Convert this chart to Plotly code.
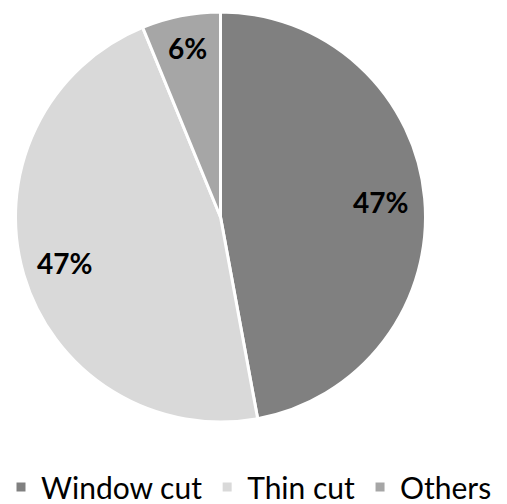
import math
import plotly.graph_objects as go

# ---- data ----
categories = ["Window cut", "Thin cut", "Others"]
values = [47.1, 46.7, 6.2]

# ---- style ----
colors = ["#808080", "#d9d9d9", "#a6a6a6"]
label_radius = [0.785, 0.794, 0.84]   # radial position of the % labels (fraction of radius)

W, H = 507, 504
BOTTOM = 60                           # bottom margin reserved for the legend
PH = H - BOTTOM                       # plot-area height (px)
PAGE_OFFSET = 8                       # default page margin around the figure
CX, CY, R = 220.5 - PAGE_OFFSET, 217.0 - PAGE_OFFSET, 205.0   # pie centre / radius (px)

dom_x = [(CX - R) / W, (CX + R) / W]
dom_y = [1 - (CY + R) / PH, 1 - (CY - R) / PH]

fig = go.Figure(
    go.Pie(
        labels=categories,
        values=values,
        sort=False,
        direction="clockwise",
        rotation=0,
        marker=dict(colors=colors, line=dict(color="white", width=3)),
        textinfo="none",
        hoverinfo="label+percent",
        domain=dict(x=dom_x, y=dom_y),
    )
)

total = sum(values)
cum = 0.0
for v, rf in zip(values, label_radius):
    theta = 2 * math.pi * (cum + v / 2) / total
    cum += v
    px = CX + rf * R * math.sin(theta)
    py = CY - rf * R * math.cos(theta)
    fig.add_annotation(
        x=px / W, y=1 - py / PH, xref="paper", yref="paper",
        text=f"{round(100 * v / total)}%",
        showarrow=False,
        font=dict(family="Lato", size=28, color="#000000", weight="bold"),
        xanchor="center", yanchor="middle",
    )

fig.update_layout(
    width=W, height=H,
    margin=dict(l=0, r=0, t=0, b=BOTTOM, autoexpand=False),
    paper_bgcolor="white", plot_bgcolor="white",
    font=dict(family="Lato", color="#000000"),
    showlegend=True,
    legend=dict(
        orientation="h",
        x=-7 / W, xanchor="left",
        y=1 - 453 / PH, yanchor="top",
        font=dict(family="Lato", size=30, color="#000000"),
        bgcolor="rgba(0,0,0,0)",
    ),
)

fig.write_html("out.html")
